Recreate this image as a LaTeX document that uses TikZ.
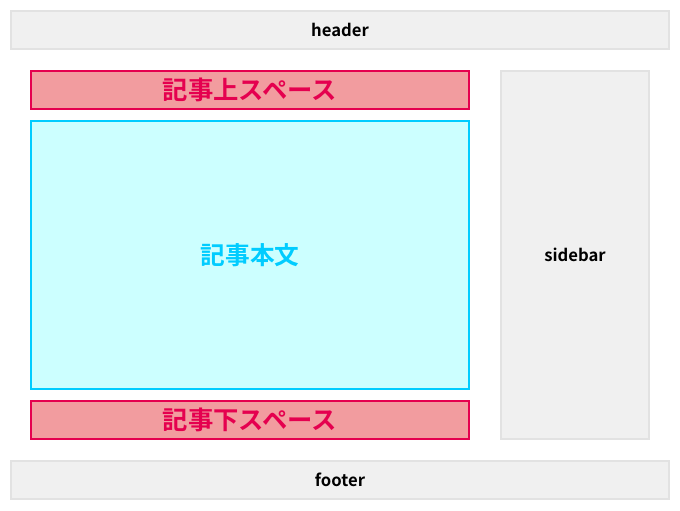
\documentclass[tikz,border=0pt]{standalone}
\usepackage{fontspec}
\setmainfont{Noto Sans CJK JP}[BoldFont={Noto Sans CJK JP Bold}]
\definecolor{grayfill}{HTML}{F0F0F0}
\definecolor{graydraw}{HTML}{E2E2E2}
\definecolor{pinkfill}{HTML}{F29C9F}
\definecolor{pinkdraw}{HTML}{E5004F}
\definecolor{cyanfill}{HTML}{CCFFFF}
\definecolor{cyandraw}{HTML}{00CCFF}
\begin{document}
\begin{tikzpicture}[x=0.75pt,y=-0.75pt,
  graybox/.style={draw=graydraw,fill=grayfill,line width=1.5pt,font=\bfseries\fontsize{12.5}{14}\selectfont,text=black},
  pinkbox/.style={draw=pinkdraw,fill=pinkfill,line width=1.5pt,font=\bfseries\fontsize{19}{21}\selectfont,text=pinkdraw},
  cyanbox/.style={draw=cyandraw,fill=cyanfill,line width=1.5pt,font=\bfseries\fontsize{18.5}{20}\selectfont,text=cyandraw}]
\useasboundingbox (0,0) rectangle (680,510);
\draw[graybox] (11,11) rectangle (669,49) node[midway] (header) {header};
\draw[pinkbox] (31,71) rectangle (469,109) node[midway] (top) {記事上スペース};
\draw[cyanbox] (31,121) rectangle (469,389) node[midway] (body) {記事本文};
\draw[pinkbox] (31,401) rectangle (469,439) node[midway] (bottom) {記事下スペース};
\draw[graybox] (501,71) rectangle (649,439) node[midway] (sidebar) {sidebar};
\draw[graybox] (11,461) rectangle (669,499) node[midway] (footer) {footer};
\end{tikzpicture}
\end{document}
